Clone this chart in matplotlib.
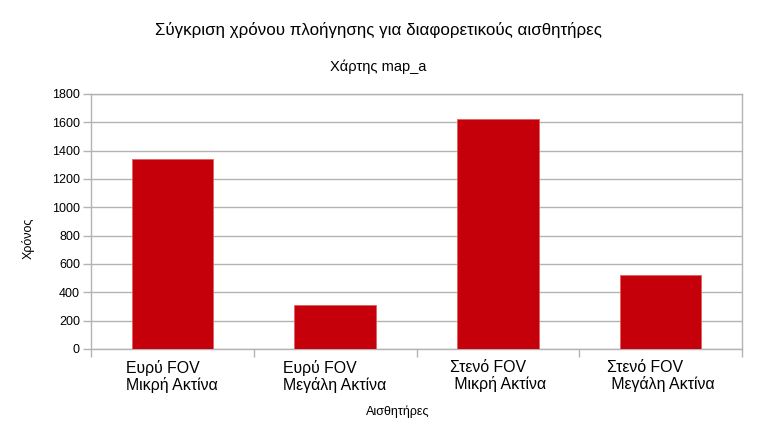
import matplotlib
matplotlib.use('Agg')
import matplotlib.pyplot as plt
import numpy as np

plt.rcParams['font.family'] = ['Liberation Sans', 'DejaVu Sans']

# data
categories = ['Ευρύ FOV\nΜικρή Ακτίνα', 'Ευρύ FOV\nΜεγάλη Ακτίνα',
              'Στενό FOV\n Μικρή Ακτίνα', 'Στενό FOV\n Μεγάλη Ακτίνα']
times = [1340, 312, 1622, 520]
y_ticks = [0, 200, 400, 600, 800, 1000, 1200, 1400, 1600, 1800]

title = 'Σύγκριση χρόνου πλοήγησης για διαφορετικούς αισθητήρες'
subtitle = 'Χάρτης map_a'
x_title = 'Αισθητήρες'
y_title = 'Χρόνος'

BAR_COLOR = '#c5000b'
GRID_COLOR = '#b3b3b3'

fig = plt.figure(figsize=(7.57, 4.38), dpi=100)
ax = fig.add_axes([0.1202, 0.2032, 0.8600, 0.5822])

x = np.arange(len(categories))
ax.bar(x, times, width=0.5, color=BAR_COLOR, edgecolor='#e06060', linewidth=0.6, zorder=3)

ax.set_xlim(-0.5, len(categories) - 0.5)
ax.set_ylim(0, 1800)
ax.set_yticks(y_ticks)
ax.set_yticklabels([str(v) for v in y_ticks], fontsize=9)
ax.yaxis.grid(True, color=GRID_COLOR, linewidth=1, zorder=0)
ax.tick_params(axis='y', length=6, width=1, color=GRID_COLOR, pad=2)

# category labels centred, tick marks on the category borders
ax.set_xticks(x)
ax.set_xticklabels(categories, fontsize=11.4, multialignment='left', linespacing=1.05)
ax.tick_params(axis='x', which='major', length=0, pad=8)
ax.set_xticks(np.arange(len(categories) + 1) - 0.5, minor=True)
ax.tick_params(axis='x', which='minor', length=6, width=1, color=GRID_COLOR)

for s in ax.spines.values():
    s.set_color(GRID_COLOR)
    s.set_linewidth(1)

fig.text(0.5, 0.920, title, ha='center', va='baseline', fontsize=12.2)
fig.text(0.5, 0.838, subtitle, ha='center', va='baseline', fontsize=10.5)
fig.text(0.525, 0.052, x_title, ha='center', va='baseline', fontsize=9)
fig.text(0.037, 0.457, y_title, ha='center', va='center', rotation=90, fontsize=9)

fig.savefig('out.png', dpi=100)
plt.close(fig)
